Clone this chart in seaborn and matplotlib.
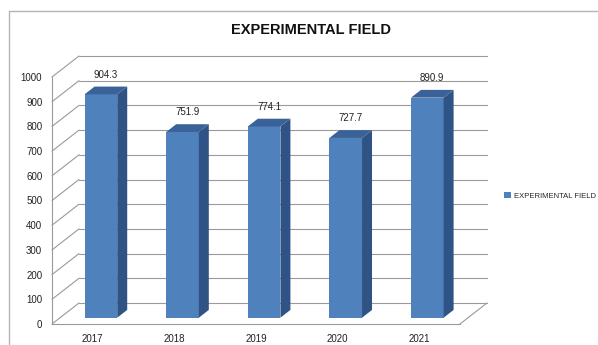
import matplotlib
matplotlib.use("Agg")
import matplotlib.pyplot as plt
import matplotlib.lines as mlines
from matplotlib.patches import Polygon
import seaborn as sns
import pandas as pd

# ===== data =====
years = ["2017", "2018", "2019", "2020", "2021"]
values = [904.3, 751.9, 774.1, 727.7, 890.9]
series_name = "EXPERIMENTAL FIELD"
y_ticks = [0, 100, 200, 300, 400, 500, 600, 700, 800, 900, 1000]

df = pd.DataFrame({"year": years, "value": values})

# ===== style =====
sns.set_style("white")
plt.rcParams["font.family"] = ["Liberation Sans", "DejaVu Sans"]

FRONT = "#4F81BD"
SIDE = "#2F5384"
TOP = "#3A6298"
GRID = "#9A9A9A"

W, H = 598, 345
fig = plt.figure(figsize=(W / 100, H / 100), dpi=100)
# front plane of the 3d box, in pixels: x 52..460, y 324 (0) .. 77 (1000)
ax = fig.add_axes([52 / W, (H - 324) / H, (460 - 52) / W, (324 - 77) / H])

sns.barplot(data=df, x="year", y="value", color=FRONT, width=0.4,
            errorbar=None, saturation=1, ax=ax, label=series_name, zorder=3,
            linewidth=0)
handles, labels = ax.get_legend_handles_labels()
if ax.get_legend() is not None:
    ax.get_legend().remove()

ax.set_xlim(-0.5, 4.5)
ax.set_ylim(0, 1000)

# depth of the box in data units (27 px right, 21 px up)
px_x = 408 / 5.0
px_y = 247 / 1000.0
DX, DY = 27 / px_x, 21 / px_y

# back wall grid + left wall diagonals
for v in y_ticks:
    ax.plot([-0.5 + DX, 4.5 + DX], [v + DY, v + DY], color=GRID, lw=0.8,
            clip_on=False, zorder=1)
    ax.plot([-0.5, -0.5 + DX], [v, v + DY], color=GRID, lw=0.8,
            clip_on=False, zorder=1)
# floor right edge
ax.plot([4.5, 4.5 + DX], [0, DY], color=GRID, lw=0.8, clip_on=False, zorder=1)

# push bars into the box and add side/top faces
f0, fd = 0.3, 0.37
for p in ax.patches:
    x0 = p.get_x() + f0 * DX
    y0 = f0 * DY
    h = p.get_height()
    w = p.get_width()
    p.set_x(x0)
    p.set_y(y0)
    p.set_clip_on(False)
    x1, y1 = x0 + w, y0 + h
    ddx, ddy = fd * DX, fd * DY
    side = Polygon([(x1, y0), (x1 + ddx, y0 + ddy), (x1 + ddx, y1 + ddy), (x1, y1)],
                   closed=True, facecolor=SIDE, edgecolor="none", zorder=3, clip_on=False)
    top = Polygon([(x0, y1), (x1, y1), (x1 + ddx, y1 + ddy), (x0 + ddx, y1 + ddy)],
                  closed=True, facecolor=TOP, edgecolor="none", zorder=3, clip_on=False)
    ax.add_patch(side)
    ax.add_patch(top)

# value labels
for i, v in enumerate(values):
    ax.text(i + 0.16, v + 105, f"{v:.1f}", ha="center", va="center",
            fontsize=7, color="#222222", clip_on=False)

# axes look
ax.set_yticks(y_ticks)
ax.set_xlabel("")
ax.set_ylabel("")
ax.tick_params(axis="both", length=0, labelsize=7, colors="#222222")
ax.tick_params(axis="y", pad=7)
ax.tick_params(axis="x", pad=7)
for s in ["top", "right"]:
    ax.spines[s].set_visible(False)
for s in ["left", "bottom"]:
    ax.spines[s].set_color(GRID)
    ax.spines[s].set_linewidth(0.8)
ax.set_facecolor("none")
ax.grid(False)

# title
fig.text(311 / W, 1 - 30 / H, series_name, ha="center", va="center",
         fontsize=10.5, fontweight="bold", color="#111111")

# legend
fig.legend(handles[:1], labels[:1], loc="center left",
           bbox_to_anchor=(504 / W, 1 - 196 / H), frameon=False,
           fontsize=5.5, handlelength=0.9, handleheight=0.9, handletextpad=0.35,
           borderaxespad=0, borderpad=0)

# sheet frame lines
fig.add_artist(mlines.Line2D([9 / W, 1], [1 - 11 / H, 1 - 11 / H],
                             color="#B5B5B5", lw=1))
fig.add_artist(mlines.Line2D([9 / W, 9 / W], [0, 1 - 11 / H],
                             color="#B5B5B5", lw=1))

fig.savefig("out.png", dpi=100)
